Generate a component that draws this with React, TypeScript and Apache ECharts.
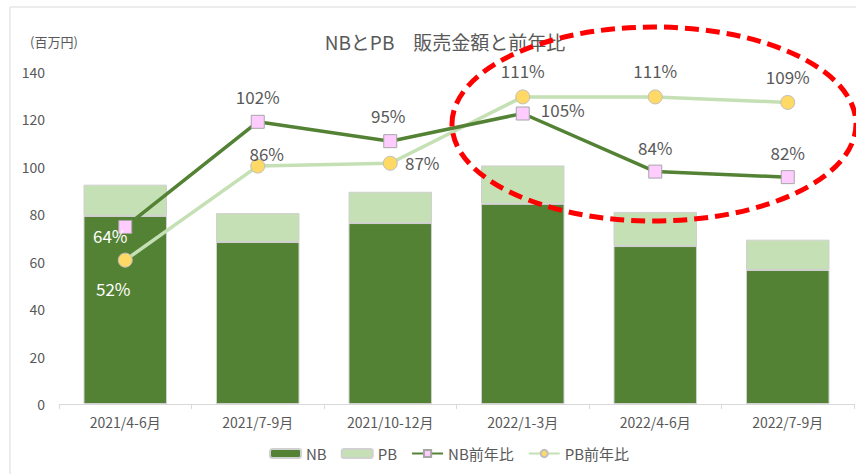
import React, { useEffect, useRef } from "react";
import * as echarts from "echarts";

const categories = ["2021/4-6月", "2021/7-9月", "2021/10-12月", "2022/1-3月", "2022/4-6月", "2022/7-9月"];
const nbSales = [79.3, 68.3, 76.3, 84.4, 66.6, 56.5];
const pbSales = [13.2, 12.2, 13.2, 16.2, 14.4, 12.8];
const nbYoY = [64, 102, 95, 105, 84, 82];
const pbYoY = [52, 86, 87, 111, 111, 109];
const yTicks = [0, 20, 40, 60, 80, 100, 120, 140];

const FONT = "'Noto Sans CJK JP', 'Noto Sans', sans-serif";
const GRAY = "#595959";

const nbLabelOffsets = [[-15, 9], [0, -25], [-2, -26], [40, -4], [0, -24], [0, -25]];
const pbLabelOffsets = [[-12, 28], [9, -13], [32, -1], [0, -26], [0, -26], [0, -26]];

export default function App() {
  const ref = useRef<HTMLDivElement>(null);
  useEffect(() => {
    if (!ref.current) return;
    const chart = echarts.init(ref.current, undefined, { renderer: "svg" });
    const mkLine = (vals: number[], offs: number[][], white: number[]) =>
      vals.map((v, i) => ({
        value: v,
        label: {
          show: true,
          position: "inside",
          offset: offs[i],
          color: white.includes(i) ? "#ffffff" : GRAY,
          fontSize: 17,
          fontFamily: FONT,
          formatter: "{c}%",
        },
      }));
    chart.setOption({
      animation: false,
      textStyle: { fontFamily: FONT },
      title: {
        text: "NBとPB　販売金額と前年比",
        left: 440,
        top: 27,
        textAlign: "center",
        textStyle: { color: GRAY, fontSize: 19, fontWeight: "normal", fontFamily: FONT },
      },
      graphic: [
        {
          type: "rect",
          shape: { x: 10, y: 7, width: 870, height: 470 },
          style: { fill: "none", stroke: "#d9d9d9", lineWidth: 1 },
          silent: true,
          z: -1,
        },
        {
          type: "text",
          left: 30,
          top: 35,
          style: { text: "(百万円)", fill: GRAY, fontSize: 13, fontFamily: FONT },
        },
        {
          type: "ellipse",
          shape: { cx: 654, cy: 124, rx: 202, ry: 97 },
          style: { fill: "none", stroke: "#ff0000", lineWidth: 5, lineDash: [14, 7] },
          z: 100,
        },
      ],
      legend: {
        bottom: 8,
        left: 264,
        itemWidth: 31,
        itemHeight: 9,
        itemGap: 14,
        textStyle: { color: GRAY, fontSize: 15, fontFamily: FONT },
        data: ["NB", "PB", "NB前年比", "PB前年比"],
      },
      grid: { left: 59, right: 2, top: 72, bottom: 70 },
      xAxis: {
        type: "category",
        data: categories,
        axisLine: { lineStyle: { color: "#d9d9d9" } },
        axisTick: { show: true, alignWithLabel: false, lineStyle: { color: "#d9d9d9" }, length: 5 },
        axisLabel: { color: GRAY, fontSize: 14, margin: 11, fontFamily: FONT },
      },
      yAxis: [
        {
          type: "value",
          min: yTicks[0],
          max: yTicks[yTicks.length - 1],
          interval: 20,
          axisLine: { show: false },
          axisTick: { show: false },
          splitLine: { show: false },
          axisLabel: { color: GRAY, fontSize: 14, margin: 14, fontFamily: FONT },
        },
        {
          type: "value",
          min: 0,
          max: 120,
          show: false,
          splitLine: { show: false },
        },
      ],
      series: [
        {
          name: "NB",
          type: "bar",
          stack: "sales",
          data: nbSales,
          barWidth: "63%",
          itemStyle: { color: "#548235", borderColor: "#d0d0d0", borderWidth: 1 },
        },
        {
          name: "PB",
          type: "bar",
          stack: "sales",
          data: pbSales,
          barWidth: "63%",
          itemStyle: { color: "#c5e0b4", borderColor: "#d0d0d0", borderWidth: 1 },
        },
        {
          name: "NB前年比",
          type: "line",
          yAxisIndex: 1,
          data: mkLine(nbYoY, nbLabelOffsets, [0]),
          symbol: "rect",
          symbolSize: 13,
          lineStyle: { color: "#548235", width: 3.5 },
          itemStyle: { color: "#ffccff", borderColor: "#a6a6a6", borderWidth: 1 },
          z: 5,
        },
        {
          name: "PB前年比",
          type: "line",
          yAxisIndex: 1,
          data: mkLine(pbYoY, pbLabelOffsets, [0]),
          symbol: "circle",
          symbolSize: 14,
          lineStyle: { color: "#c5e0b4", width: 3.5 },
          itemStyle: { color: "#ffd966", borderColor: "#bfbfbf", borderWidth: 1 },
          z: 4,
        },
      ],
    });
    return () => chart.dispose();
  }, []);
  return (
    <div
      ref={ref}
      style={{ position: "fixed", left: 0, top: 0, width: 856, height: 474, background: "#fff" }}
    />
  );
}
